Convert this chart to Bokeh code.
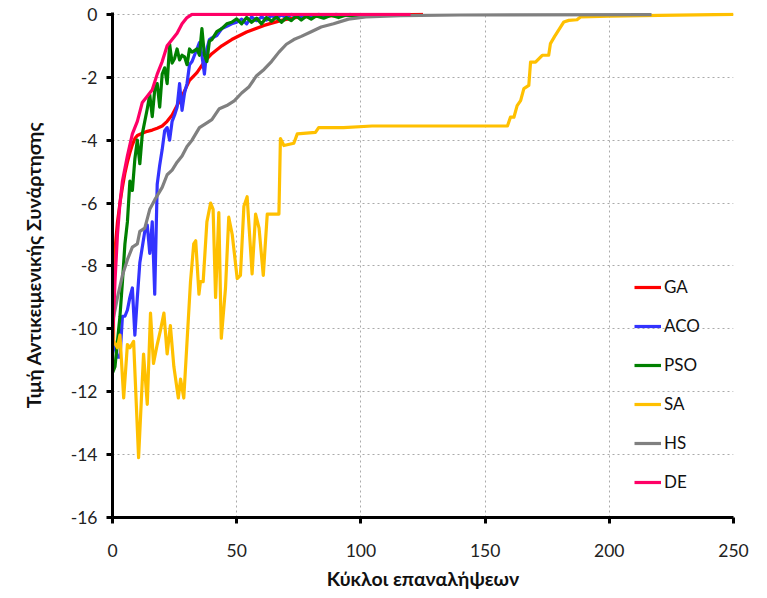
from bokeh.plotting import figure
from bokeh.models import Range1d, FixedTicker, Legend, LegendItem
from bokeh.embed import file_html
from bokeh.resources import INLINE

# ---------------- data ----------------
x_ticks = [0, 50, 100, 150, 200, 250]
y_ticks = [-16, -14, -12, -10, -8, -6, -4, -2, 0]
y_tick_labels = ["-16", "-14", "-12", "-10", "-8", "-6", "-4", "-2", "0"]

ga_x = [0, 1, 2, 3, 4, 5, 6, 7, 8, 9, 10, 12, 14, 16, 18, 20, 22, 24, 26, 28, 31, 34, 37, 40, 44, 48, 54, 61, 68, 75, 90, 110, 125]
ga_y = [-9.8, -7.5, -6.6, -6.0, -5.5, -5.05, -4.7, -4.4, -4.15, -3.95, -3.85, -3.78, -3.72, -3.68, -3.62, -3.55, -3.4, -3.2, -2.9, -2.6, -2.1, -1.85, -1.5, -1.25, -1.0, -0.8, -0.56, -0.35, -0.19, -0.08, -0.04, -0.02, 0.0]

aco_x = [0, 1, 2, 3, 4, 5, 6, 7, 8, 9, 10, 11, 12, 13, 14, 15, 16, 17, 18, 19, 20, 21, 22, 23, 24, 25, 26, 27, 28, 29, 30, 31, 32, 33, 34, 35, 36, 37, 38, 39, 40, 42, 44, 46, 48, 50, 52, 54, 56, 58, 60, 62, 64, 66, 68, 70, 72, 75, 78, 80, 83, 86, 90, 93, 96]
aco_y = [-10.2, -10.6, -10.9, -10.9, -9.6, -9.6, -9.4, -9.0, -8.7, -10.2, -9.0, -7.9, -7.4, -6.9, -6.7, -7.6, -6.6, -8.9, -5.4, -4.8, -4.3, -3.7, -3.6, -4.0, -3.4, -3.2, -2.95, -2.2, -3.05, -2.5, -2.2, -1.6, -1.5, -1.3, -1.1, -0.9, -1.3, -1.9, -1.1, -0.8, -0.75, -0.67, -0.45, -0.38, -0.3, -0.25, -0.15, -0.3, -0.08, -0.2, -0.08, -0.18, -0.04, -0.12, -0.02, -0.1, 0.0, -0.08, -0.02, -0.06, 0.0, -0.05, 0.0, -0.03, 0.0]

pso_x = [0, 1, 2, 3, 4, 5, 6, 7, 8, 9, 10, 11, 12, 13, 14, 15, 16, 17, 18, 19, 20, 21, 22, 23, 24, 25, 26, 27, 28, 29, 30, 31, 32, 33, 34, 35, 36, 37, 38, 39, 40, 42, 44, 46, 48, 50, 52, 54, 56, 58, 60, 62, 64, 66, 68, 70, 72, 74, 76, 78, 80, 82, 85, 88, 91, 94, 97, 100]
pso_y = [-11.4, -11.2, -10.4, -9.6, -8.5, -7.3, -6.6, -5.3, -5.6, -4.6, -4.0, -4.75, -3.8, -3.4, -3.0, -2.55, -3.25, -2.4, -2.2, -2.95, -1.9, -1.7, -2.2, -0.95, -1.55, -1.4, -1.1, -1.45, -1.3, -1.35, -1.6, -1.1, -1.2, -1.15, -1.1, -1.3, -0.45, -1.3, -1.5, -0.85, -0.8, -0.55, -0.45, -0.3, -0.25, -0.14, -0.3, -0.1, -0.25, -0.12, -0.3, -0.1, -0.22, -0.08, -0.25, -0.1, -0.2, -0.05, -0.18, -0.06, -0.15, -0.05, -0.12, -0.03, -0.1, -0.02, -0.06, 0.0]

sa_x = [0, 0.5, 2, 3, 4.5, 6, 7, 8.5, 10.5, 12.5, 14, 15.3, 16.5, 18, 19.3, 20.7, 22, 23.3, 24.7, 26.5, 27.4, 28.7, 31.4, 32.7, 33.5, 34.8, 35.4, 36.5, 38, 39.5, 40.5, 41.5, 42.8, 43.8, 45.5, 46.8, 48.2, 50.2, 51.5, 52.9, 54.2, 56.2, 57.6, 59, 60.7, 62.3, 67, 67.6, 69, 73, 74.4, 81.7, 83, 93, 104.5, 159, 160.2, 161.6, 162.9, 164.3, 165.6, 167.6, 168.3, 170.3, 173, 175.6, 176.3, 178, 181.7, 183.7, 187, 188.4, 200, 220, 250]
sa_y = [-7.1, -10.4, -10.6, -10.2, -12.2, -10.5, -10.6, -10.4, -14.1, -10.8, -12.4, -9.5, -11.1, -10.5, -10.05, -9.5, -10.8, -9.9, -11.2, -12.2, -11.6, -12.2, -8.5, -7.3, -7.2, -8.9, -8.5, -8.5, -6.6, -6.0, -6.2, -9.0, -6.3, -10.3, -8.7, -6.45, -7.0, -8.4, -8.3, -6.1, -5.8, -8.25, -6.35, -6.8, -8.3, -6.35, -6.35, -3.95, -4.17, -4.1, -3.8, -3.75, -3.6, -3.6, -3.55, -3.55, -3.27, -3.27, -2.9, -2.74, -2.36, -2.26, -1.52, -1.52, -1.3, -1.3, -0.93, -0.7, -0.24, -0.19, -0.17, -0.08, -0.06, -0.03, 0.0]

hs_x = [0, 2, 4, 6, 8, 10, 11, 13, 15, 17, 20, 22, 24, 26, 28, 30, 32, 35, 38, 40, 43, 46, 49, 52, 55, 58, 61, 64, 67, 70, 73, 76, 80, 84, 89, 95, 102, 116, 140, 217]
hs_y = [-9.8, -9.0, -8.3, -7.8, -7.4, -7.3, -6.9, -6.8, -6.2, -5.9, -5.5, -5.1, -4.95, -4.7, -4.5, -4.2, -4.0, -3.6, -3.45, -3.35, -3.0, -2.9, -2.75, -2.5, -2.3, -1.95, -1.75, -1.5, -1.2, -0.95, -0.8, -0.7, -0.55, -0.4, -0.3, -0.15, -0.08, -0.04, -0.02, -0.01]

de_x = [0, 1, 2, 3, 4, 6, 8, 10, 12, 14, 16, 18, 20, 22, 24, 26, 28, 30, 32, 60, 120]
de_y = [-10.5, -8.5, -7.0, -6.0, -5.3, -4.5, -3.8, -3.4, -2.8, -2.6, -2.4, -1.9, -1.5, -1.0, -0.8, -0.6, -0.3, -0.1, 0.0, 0.0, 0.0]

names = ["GA", "ACO", "PSO", "SA", "HS", "DE"]
colors = ["#FF0000", "#3333FF", "#008000", "#FFC000", "#808080", "#FF0066"]
series = [(ga_x, ga_y), (aco_x, aco_y), (pso_x, pso_y), (sa_x, sa_y), (hs_x, hs_y), (de_x, de_y)]

FONT = "Lato"

p = figure(width=767, height=598,
           x_range=Range1d(0, 250), y_range=Range1d(-16, 0.06),
           output_backend="svg", toolbar_location=None,
           min_border_left=112, min_border_right=34,
           min_border_top=12, min_border_bottom=81)
p.outline_line_color = None
p.background_fill_color = "white"
p.border_fill_color = "white"

items = []
for name, col, (xs, ys) in zip(names, colors, series):
    r = p.line(xs, ys, line_color=col, line_width=3.2, line_join="round")
    items.append(LegendItem(label=name, renderers=[r]))

p.xaxis.ticker = FixedTicker(ticks=x_ticks)
p.yaxis.ticker = FixedTicker(ticks=y_ticks)
p.yaxis.major_label_overrides = {t: s for t, s in zip(y_ticks, y_tick_labels)}
for ax in (p.xaxis, p.yaxis):
    ax.axis_line_width = 3
    ax.axis_line_color = "black"
    ax.major_tick_line_width = 3
    ax.major_tick_line_color = "black"
    ax.major_tick_out = 6
    ax.major_tick_in = 0
    ax.minor_tick_line_color = None
    ax.major_label_text_font = FONT
    ax.major_label_text_font_size = "17.5px"
    ax.major_label_text_color = "#222222"
    ax.axis_label_text_font = FONT
    ax.axis_label_text_font_size = "19.5px"
    ax.axis_label_text_font_style = "bold"
    ax.axis_label_text_color = "#111111"

p.xaxis.axis_label = "Κύκλοι επαναλήψεων"
p.yaxis.axis_label = "Τιμή Αντικειμενικής Συνάρτησης"
p.xaxis.major_label_standoff = 20
p.xaxis.axis_label_standoff = 7
p.yaxis.major_label_standoff = 9
p.yaxis.axis_label_standoff = 23

for g in (p.xgrid, p.ygrid):
    g.grid_line_color = "#AAAAAA"
    g.grid_line_dash = "2 3"
    g.grid_line_width = 1

legend = Legend(items=items, location=(522, 25),
                background_fill_alpha=0, border_line_color=None,
                label_text_font=FONT, label_text_font_size="17px",
                label_text_color="#111111",
                glyph_width=27, glyph_height=20, label_height=20,
                spacing=18, padding=0, margin=0, label_standoff=3)
p.add_layout(legend)

open("out.html", "w").write(file_html(p, INLINE))
